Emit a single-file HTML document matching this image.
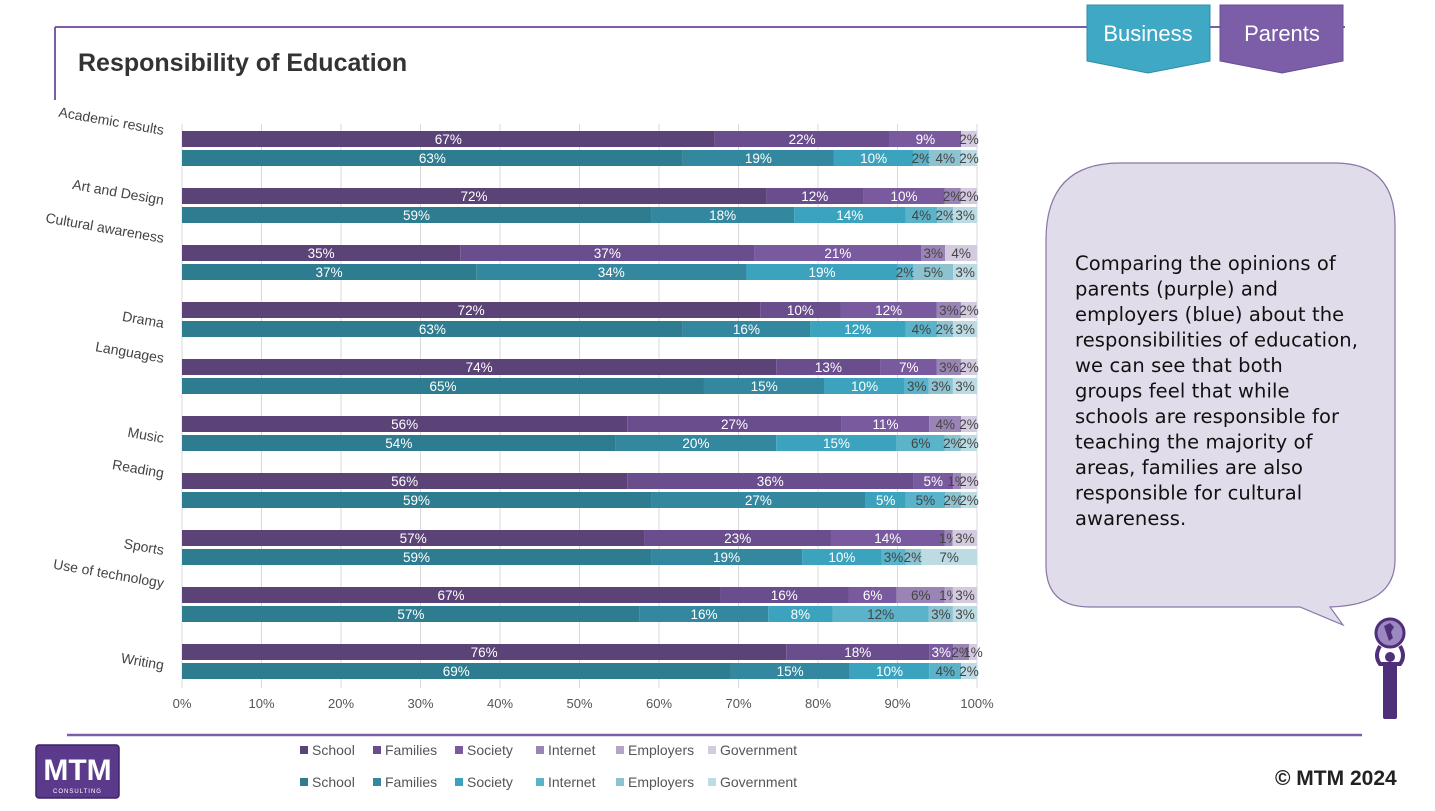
<!DOCTYPE html>
<html><head><meta charset="utf-8">
<style>
html,body{margin:0;padding:0;background:#fff;width:1435px;height:811px;overflow:hidden;font-family:"Liberation Sans",sans-serif;}
#wrap{position:relative;width:1435px;height:811px;}
svg{position:absolute;left:0;top:0;}
</style></head>
<body><div id="wrap">
<svg id="s" width="1435" height="811" viewBox="0 0 1435 811">
  <line x1="55" y1="27" x2="1345" y2="27" stroke="#7b5ea7" stroke-width="2"/>
  <line x1="55" y1="27" x2="55" y2="100" stroke="#7b5ea7" stroke-width="2"/>
  <text x="78" y="71" font-size="25" font-weight="bold" fill="#333" font-family="Liberation Sans, sans-serif">Responsibility of Education</text>
  <g>
    <polygon points="1087,5 1210,5 1210,61 1148,73 1087,61" fill="#3ea8c5" stroke="#2f8ea8" stroke-width="1"/>
    <text x="1148" y="41" font-size="22" fill="#fff" text-anchor="middle">Business</text>
  </g>
  <g>
    <polygon points="1220,5 1343,5 1343,61 1282,73 1220,61" fill="#7b5ea7" stroke="#6a4e94" stroke-width="1"/>
    <text x="1282" y="41" font-size="22" fill="#fff" text-anchor="middle">Parents</text>
  </g>
  <g>
    <path d="M1046,240 Q1046,163 1120,163 L1335,163 Q1395,163 1395,225 L1395,560 Q1395,605 1330,607 L1343,625 L1300,607 L1090,607 Q1046,607 1046,565 Z" fill="#e1dce9" stroke="#8a76a8" stroke-width="1.2"/>
    <text font-size="19.5" fill="#111" font-family="DejaVu Sans, sans-serif" letter-spacing="0.1">
      <tspan x="1075" y="270">Comparing the opinions of</tspan>
      <tspan x="1075" y="295.5">parents (purple) and</tspan>
      <tspan x="1075" y="321">employers (blue) about the</tspan>
      <tspan x="1075" y="346.5">responsibilities of education,</tspan>
      <tspan x="1075" y="372">we can see that  both</tspan>
      <tspan x="1075" y="397.5">groups feel that while</tspan>
      <tspan x="1075" y="423">schools are responsible for</tspan>
      <tspan x="1075" y="448.5">teaching the majority of</tspan>
      <tspan x="1075" y="474">areas, families are also</tspan>
      <tspan x="1075" y="499.5">responsible for cultural</tspan>
      <tspan x="1075" y="525">awareness.</tspan>
    </text>
  </g>
  <g>
    <circle cx="1390" cy="633" r="14" fill="#9c88c0" stroke="#4f2f7a" stroke-width="3"/>
    <path d="M1384,626 l6,-3 l4,4 l-3,5 l2,6 l-4,3 l-2,-6 z" fill="#4f2f7a"/>
    <path d="M1380,646 q-6,10 0,18 l20,0 q6,-8 0,-18" fill="none" stroke="#4f2f7a" stroke-width="4"/>
    <circle cx="1390" cy="657" r="5" fill="#4f2f7a"/>
    <rect x="1383" y="664" width="14" height="55" rx="2" fill="#4f2f7a"/>
  </g>
  <line x1="67" y1="735" x2="1362" y2="735" stroke="#7b5ea7" stroke-width="2.5"/>
  <g>
    <rect x="36" y="745" width="83" height="53" rx="3" fill="#5b3a8c" stroke="#3d2366" stroke-width="1.5"/>
    <text x="77.5" y="780" font-size="30" font-weight="bold" fill="#fff" text-anchor="middle">MTM</text>
    <text x="77.5" y="793" font-size="6" fill="#fff" text-anchor="middle" letter-spacing="1">CONSULTING</text>
  </g>
  <text x="1275" y="785" font-size="21" font-weight="bold" fill="#222">© MTM 2024</text>
  <g id="chart"></g>
  <g id="legend"></g>
</svg>
</div>
<script>
const categories=["Academic results","Art and Design","Cultural awareness","Drama","Languages","Music","Reading","Sports","Use of technology","Writing"];
const seriesNames=["School","Families","Society","Internet","Employers","Government"];
const parentsValues=[
[67,22,9,0,0,2],[72,12,10,2,0,2],[35,37,21,3,0,4],[72,10,12,3,0,2],[74,13,7,3,0,2],
[56,27,11,4,0,2],[56,36,5,1,0,2],[57,23,14,1,0,3],[67,16,6,6,1,3],[76,18,3,2,0,1]];
const businessValues=[
[63,19,10,2,4,2],[59,18,14,4,2,3],[37,34,19,2,5,3],[63,16,12,4,2,3],[65,15,10,3,3,3],
[54,20,15,6,2,2],[59,27,5,5,2,2],[59,19,10,3,2,7],[57,16,8,12,3,3],[69,15,10,4,0,2]];
const xTicks=[0,10,20,30,40,50,60,70,80,90,100];

const parentColors=["#5c4377","#6a4d8c","#7a5a9e","#9a84b5","#b3a4c8","#d4cbe0"];
const businessColors=["#2e7c8f","#33889f","#3ba3bd","#5ab3c8","#8dc3d0","#bddbe3"];
const NS="http://www.w3.org/2000/svg";
const X0=182,X1=977,TOP=124,STEP=57,FIRST=131,BH=16,GAP=19;
const xs=v=>X0+(X1-X0)*v/100;
const yRow=(i,g)=>FIRST+i*STEP+g*GAP;
const chart=document.getElementById('chart');
function mk(tag,attrs,parent){const e=document.createElementNS(NS,tag);for(const k in attrs)e.setAttribute(k,attrs[k]);parent.appendChild(e);return e;}

xTicks.forEach(t=>{
  const l=mk('line',{x1:xs(t),x2:xs(t),y1:TOP,y2:688,stroke:'#d9d9d9','stroke-width':1},chart);
  
  
  const tx=mk('text',{x:xs(t),y:708,'font-size':13,fill:'#555','text-anchor':'middle'},chart);
  tx.textContent=t+'%';
  
  
});
const labelY=[135,205,243,328,363,443,478,555,588,670];
categories.forEach((c,i)=>{
  const t=mk('text',{x:163,y:labelY[i],'font-size':14,fill:'#444','text-anchor':'end',transform:`rotate(10 163 ${labelY[i]})`},chart);
  t.textContent=c;
  
  
});
function drawRow(vals,i,g,colors){
  const tot=vals.reduce((a,b)=>a+b,0);let acc=0;
  const y=yRow(i,g);
  vals.forEach((v,k)=>{
    if(v<=0)return;
    const a=xs(acc/tot*100),b=xs((acc+v)/tot*100);acc+=v;
    const r=mk('rect',{x:a,y:y,width:b-a,height:BH,fill:colors[k]},chart);
    
    
    const t=mk('text',{x:(a+b)/2,y:y+13,'font-size':13.5,fill:k<3?'#fff':'#444','text-anchor':'middle'},chart);
    t.textContent=v+'%';
    
    
  });
}
categories.forEach((c,i)=>{drawRow(parentsValues[i],i,0,parentColors);drawRow(businessValues[i],i,1,businessColors);});

const lg=document.getElementById('legend');
const legX=[300,373,455,536,616,708];
[[parentColors,755],[businessColors,787]].forEach(([cols,y])=>{
  seriesNames.forEach((n,k)=>{
    const r=mk('rect',{x:legX[k],y:y-9,width:8,height:8,fill:cols[k]},lg);
    
    
    const t=mk('text',{x:legX[k]+12,y:y,'font-size':14,fill:'#555'},lg);
    t.textContent=n;
    
    
  });
});
</script>
</body></html>
